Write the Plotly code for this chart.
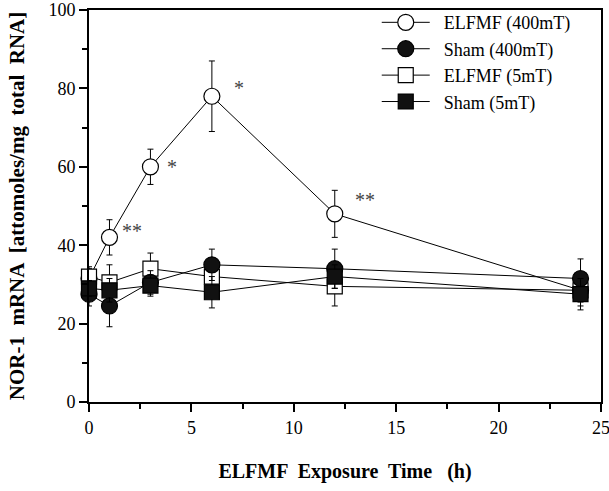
import plotly.graph_objects as go

hours = [0, 1, 3, 6, 12, 24]

elf400 = [31.5, 42, 60, 78, 48, 28.5]
elf400_err = [3, 4.5, 4.5, 9, 6, 4]

sham400 = [27.5, 24.5, 30.5, 35, 34, 31.5]
sham400_err = [3, 5.3, 3, 4, 5, 5]

elf5 = [32, 30.5, 34, 32, 29.5, 28.5]
elf5_err = [2, 4.5, 4, 3, 5, 3]

sham5 = [29, 28.5, 29.7, 28, 32, 27.5]
sham5_err = [2, 3, 2.7, 4, 3, 4]

star_x = [2.1, 4.05, 7.3, 13.5]
star_y = [43.6, 60, 80, 51.5]
star_txt = ["**", "*", "*", "**"]

FONT = "Liberation Serif"

fig = go.Figure()

def add(name, y, err, symbol, fill, rank, size):
    fig.add_trace(go.Scatter(
        x=hours, y=y, name="\u00a0\u00a0" + name, mode="lines+markers",
        line=dict(color="black", width=1),
        marker=dict(symbol=symbol, size=size, color=fill,
                    line=dict(color="black", width=1.2)),
        error_y=dict(type="data", array=err, visible=True,
                     color="black", thickness=1, width=3),
        legendrank=rank, legendgroup=name, cliponaxis=False,
    ))

add("ELFMF (400mT)", elf400, elf400_err, "circle", "white", 1, 16)
add("ELFMF (5mT)", elf5, elf5_err, "square", "white", 3, 15)
add("Sham (400mT)", sham400, sham400_err, "circle", "#111111", 2, 16)
add("Sham (5mT)", sham5, sham5_err, "square", "#111111", 4, 15)

for xx, yy, t in zip(star_x, star_y, star_txt):
    fig.add_annotation(x=xx, y=yy, text=t, showarrow=False,
                       font=dict(family=FONT, size=20, color="#444444"))

axis_common = dict(
    showline=True, linecolor="black", linewidth=2, mirror=True,
    ticks="outside", ticklen=8, tickwidth=2, tickcolor="black",
    showgrid=False, zeroline=False, automargin=False,
    ticklabeloverflow="allow",
    tickfont=dict(family=FONT, size=18, color="black"),
)

fig.update_xaxes(range=[0, 25], tickvals=[0, 5, 10, 15, 20, 25],
                 minor=dict(ticks="outside", ticklen=5, tickwidth=2,
                            tickcolor="black", dtick=2.5, tick0=0),
                 title=dict(text="<b>ELFMF  Exposure  Time   (h)</b>",
                            font=dict(family=FONT, size=20, color="black"),
                            standoff=27),
                 **axis_common)
fig.update_yaxes(range=[0, 100], tickvals=[0, 20, 40, 60, 80, 100],
                 minor=dict(ticks="outside", ticklen=5, tickwidth=2,
                            tickcolor="black", dtick=10, tick0=0),
                 title=dict(text="<b>NOR-1  mRNA  [attomoles/mg  total  RNA]</b>",
                            font=dict(family=FONT, size=21, color="black"),
                            standoff=18),
                 **axis_common)

fig.update_layout(
    template="simple_white",
    width=609, height=491,
    margin=dict(l=89, r=8, t=10, b=89, autoexpand=False),
    plot_bgcolor="white", paper_bgcolor="white",
    showlegend=True,
    legend=dict(x=0.562, y=1.015, xanchor="left", yanchor="top",
                font=dict(family=FONT, size=18, color="black"),
                bgcolor="rgba(0,0,0,0)", borderwidth=0,
                itemwidth=48, tracegroupgap=0, traceorder="grouped"),
)

fig.write_html("out.html")
